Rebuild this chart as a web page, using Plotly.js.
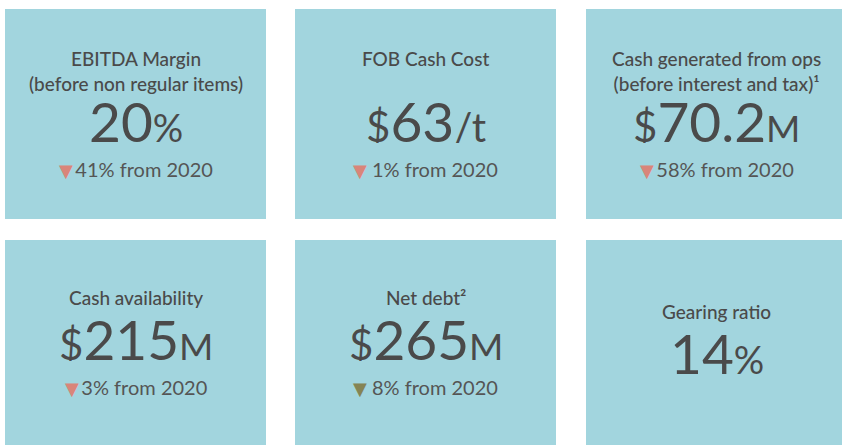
<!DOCTYPE html>
<html>
<head>
<meta charset="utf-8">
<script src="https://cdn.plot.ly/plotly-3.0.1.min.js"></script>
<style>
  html, body { margin: 0; padding: 0; background: #ffffff; }
  #chart { width: 842px; height: 445px; }
</style>
</head>
<body>
<div id="chart"></div>
<script>
// ---- Data ----
const titles = [
  "EBITDA Margin<br>(before non regular items)",
  "FOB Cash Cost",
  "Cash generated from ops<br>(before interest and tax)¹",
  "Cash availability",
  "Net debt²",
  "Gearing ratio"
];
const prefixes = ["", "$", "$", "$", "$", ""];
const values = ["20", "63", "70.2", "215", "265", "14"];
const units = ["%", "/t", "M", "M", "M", "%"];
const changes = [41, 1, 58, 3, 8, null];
const changeGood = [false, false, false, false, true, null];
const changeSpaced = [false, true, false, false, true, false];
const baseYear = "2020";

// ---- Styles ----
const tileColor = "#a2d5de";
const textColor = "#4a4a4a";
const subColor = "#555555";
const badColor = "#d9857a";
const goodColor = "#858454";
const fontFamily = "Lato, 'Noto Sans', sans-serif";

const colX0 = [5, 295, 586];
const tileW = 261;
const rowY0 = [9, 240];
const rowY1 = [219, 460];

const shapes = [];
const annotations = [];

titles.forEach((t, i) => {
  const col = i % 3, row = Math.floor(i / 3);
  const x0 = colX0[col], x1 = x0 + tileW;
  const y0 = rowY0[row], y1 = rowY1[row];
  const xc = (x0 + x1) / 2;
  shapes.push({
    type: "rect", xref: "x", yref: "y",
    x0: x0, x1: x1, y0: y0, y1: y1,
    fillcolor: tileColor, line: { width: 0 }, layer: "below"
  });

  let titleY, numY, subY;
  if (row === 0) {
    titleY = 45; numY = 121; subY = 169;
  } else {
    const shift = changes[i] === null ? 14 : 0;
    titleY = 297 + shift; numY = 339 + shift; subY = 387;
  }

  annotations.push({
    x: xc, y: titleY, xref: "x", yref: "y",
    text: t, showarrow: false,
    xanchor: "center", yanchor: row === 0 ? "top" : "middle",
    align: "center",
    font: { family: fontFamily, size: 19, color: textColor, weight: 500 }
  });

  const pre = prefixes[i] ? `<span style="font-size:42px">${prefixes[i]}</span>` : "";
  const unitSize = units[i] === "/t" ? 40 : (units[i] === "M" ? 37 : 38);
  annotations.push({
    x: xc, y: numY, xref: "x", yref: "y",
    text: pre + values[i] + `<span style="font-size:${unitSize}px">${units[i]}</span>`,
    showarrow: false, xanchor: "center", yanchor: "middle",
    height: 44, valign: "middle",
    font: { family: fontFamily, size: 55, color: textColor }
  });

  if (changes[i] !== null) {
    const triColor = changeGood[i] ? goodColor : badColor;
    annotations.push({
      x: xc, y: subY, xref: "x", yref: "y",
      text: `<span style="color:${triColor};font-family:'DejaVu Sans';font-size:18px">▼</span>` +
            (changeSpaced[i] ? " " : "\u2009") + `${changes[i]}% from ${baseYear}`,
      showarrow: false, xanchor: "center", yanchor: "middle",
      font: { family: fontFamily, size: 20, color: subColor }
    });
  }
});

const layout = {
  width: 842, height: 445,
  margin: { l: 0, r: 0, t: 0, b: 0 },
  paper_bgcolor: "#ffffff", plot_bgcolor: "#ffffff",
  xaxis: { range: [0, 842], visible: false, fixedrange: true },
  yaxis: { range: [445, 0], visible: false, fixedrange: true },
  showlegend: false,
  shapes: shapes,
  annotations: annotations
};

Plotly.newPlot("chart", [], layout, { displayModeBar: false, staticPlot: true });
</script>
</body>
</html>
